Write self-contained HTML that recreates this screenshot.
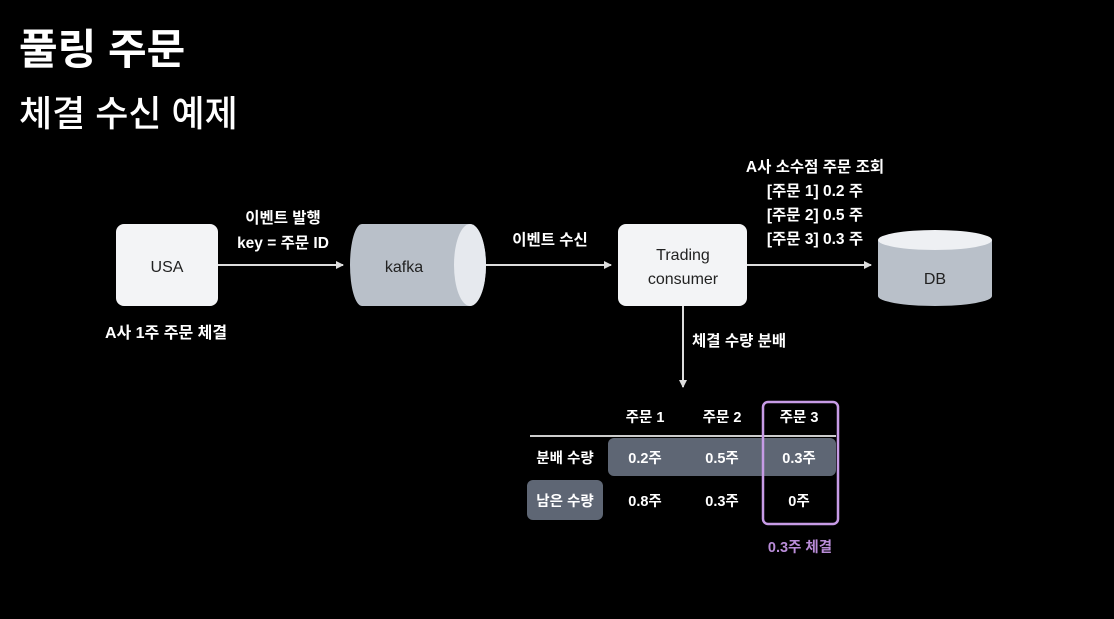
<!DOCTYPE html>
<html><head><meta charset="utf-8"><style>
body{margin:0;background:#000;width:1114px;height:614px;overflow:hidden}
svg text{font-family:"Liberation Sans","Noto Sans CJK KR",sans-serif;font-weight:bold}
</style></head><body>
<svg width="1114" height="614" xmlns="http://www.w3.org/2000/svg">
<text x="19" y="64" fill="#fff" font-size="42">풀링 주문</text>
<text x="19" y="126" fill="#fff" font-size="36" style="font-weight:500">체결 수신 예제</text>
<defs><marker id="a" markerWidth="8" markerHeight="8" refX="7" refY="4" orient="auto" markerUnits="userSpaceOnUse"><path d="M0,0 L8,4 L0,8 z" fill="#ddd"/></marker></defs>
<rect x="116" y="224" width="102" height="82" rx="8" fill="#f3f4f6"/>
<text x="167" y="272" fill="#222" font-size="16" text-anchor="middle" style="font-weight:normal">USA</text>
<text x="166" y="338" fill="#fff" font-size="16" text-anchor="middle">A사 1주 주문 체결</text>
<line x1="218" y1="265" x2="343" y2="265" stroke="#ddd" stroke-width="2" marker-end="url(#a)"/>
<text x="283" y="223" fill="#fff" font-size="15.5" text-anchor="middle">이벤트 발행</text>
<text x="283" y="248" fill="#fff" font-size="15.5" text-anchor="middle">key = 주문 ID</text>
<path d="M362,224 L470,224 A16,41 0 0 1 470,306 L362,306 A12,41 0 0 1 362,224 z" fill="#b9c0c9"/>
<ellipse cx="470" cy="265" rx="16" ry="41" fill="#e6e9ee"/>
<text x="404" y="272" fill="#222" font-size="16" text-anchor="middle" style="font-weight:normal">kafka</text>
<line x1="486" y1="265" x2="611" y2="265" stroke="#ddd" stroke-width="2" marker-end="url(#a)"/>
<text x="550" y="245" fill="#fff" font-size="15.5" text-anchor="middle">이벤트 수신</text>
<rect x="618" y="224" width="129" height="82" rx="8" fill="#f3f4f6"/>
<text x="683" y="260" fill="#222" font-size="16" text-anchor="middle" style="font-weight:normal">Trading</text>
<text x="683" y="284" fill="#222" font-size="16" text-anchor="middle" style="font-weight:normal">consumer</text>
<text x="815" y="172" fill="#fff" font-size="15.5" text-anchor="middle">A사 소수점 주문 조회</text>
<text x="815" y="196" fill="#fff" font-size="15.5" text-anchor="middle">[주문 1]  0.2 주</text>
<text x="815" y="220" fill="#fff" font-size="15.5" text-anchor="middle">[주문 2]  0.5 주</text>
<text x="815" y="244" fill="#fff" font-size="15.5" text-anchor="middle">[주문 3]  0.3 주</text>
<line x1="747" y1="265" x2="871" y2="265" stroke="#ddd" stroke-width="2" marker-end="url(#a)"/>
<path d="M878,240 L878,296 A57,10 0 0 0 992,296 L992,240 z" fill="#b9c0c9"/>
<ellipse cx="935" cy="240" rx="57" ry="10" fill="#eef0f3"/>
<text x="935" y="284" fill="#222" font-size="16" text-anchor="middle" style="font-weight:normal">DB</text>
<line x1="683" y1="306" x2="683" y2="387" stroke="#ddd" stroke-width="2" marker-end="url(#a)"/>
<text x="692" y="346" fill="#fff" font-size="15.5">체결 수량 분배</text>
<rect x="608" y="438" width="228" height="38" rx="6" fill="#5e6674"/>
<rect x="527" y="480" width="76" height="40" rx="6" fill="#5e6674"/>
<line x1="530" y1="436" x2="836" y2="436" stroke="#ccc" stroke-width="2"/>
<g fill="#fff" font-size="14.5" text-anchor="middle">
<text x="645" y="422">주문 1</text><text x="722" y="422">주문 2</text><text x="799" y="422">주문 3</text>
<text x="565" y="463">분배 수량</text><text x="645" y="463">0.2주</text><text x="722" y="463">0.5주</text><text x="799" y="463">0.3주</text>
<text x="565" y="506">남은 수량</text><text x="645" y="506">0.8주</text><text x="722" y="506">0.3주</text><text x="799" y="506">0주</text>
</g>
<rect x="763" y="402" width="75" height="122" rx="5" fill="none" stroke="#c79be6" stroke-width="2.5"/>
<text x="800" y="552" fill="#b98cd8" font-size="14.5" text-anchor="middle">0.3주 체결</text>
</svg>
</body></html>
